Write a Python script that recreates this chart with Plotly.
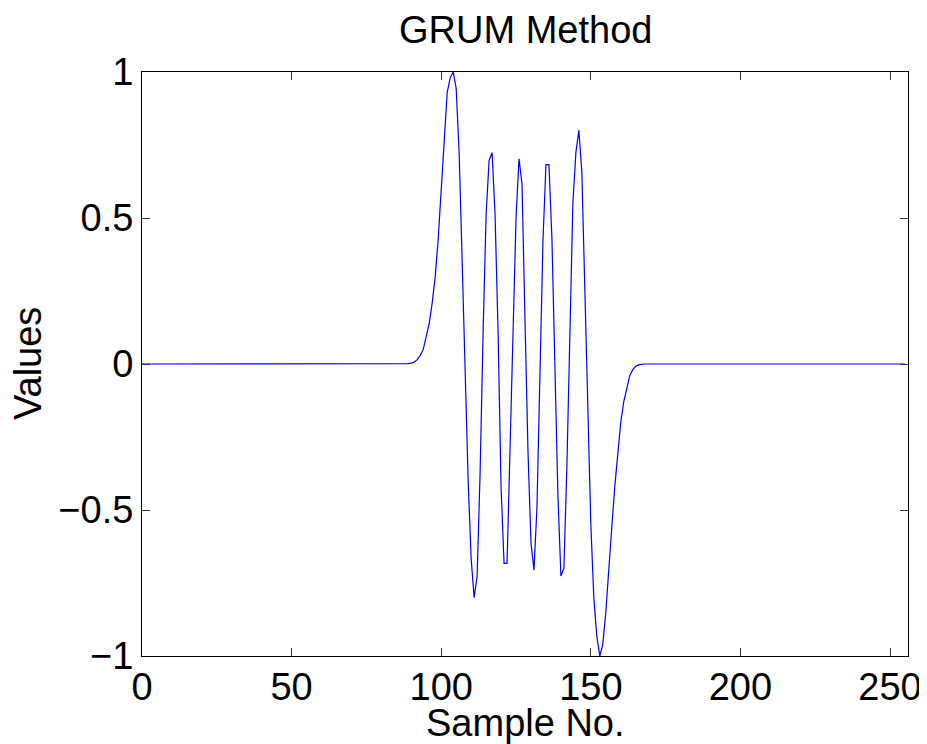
import plotly.graph_objects as go

# Samples 0..255; non-zero region
n_samples = 256
burst_start = 88
burst_values = [
    0.0, 0.001, 0.003, 0.007, 0.015, 0.03, 0.05, 0.09, 0.14, 0.21,   # 88-97
    0.30, 0.43, 0.59, 0.77, 0.93, 0.98, 1.0, 0.944, 0.72, 0.35,       # 98-107
    -0.05, -0.40, -0.666, -0.80, -0.726, -0.37, 0.11, 0.51, 0.697, 0.724,  # 108-117
    0.51, 0.11, -0.42, -0.683, -0.683, -0.29, 0.11, 0.50, 0.703, 0.617,    # 118-127
    0.15, -0.30, -0.613, -0.706, -0.49, -0.05, 0.42, 0.683, 0.683, 0.43,   # 128-137
    0.0, -0.45, -0.726, -0.699, -0.35, 0.12, 0.55, 0.724, 0.80, 0.657,     # 138-147
    0.25, -0.2, -0.55, -0.80, -0.933, -1.0, -0.96, -0.85, -0.72, -0.56,    # 148-157
    -0.42, -0.30, -0.20, -0.13, -0.08, -0.04, -0.02, -0.008, -0.003, -0.001,  # 158-167
    0.0,
]

samples = list(range(n_samples))
values = [0.0] * n_samples
for i, v in enumerate(burst_values):
    values[burst_start + i] = v

x_ticks = [0, 50, 100, 150, 200, 250]
y_ticks = [-1, -0.5, 0, 0.5, 1]
y_tick_text = ["\u22121", "\u22120.5", "0", "0.5", "1"]

title_text = "GRUM Method"
x_title = "Sample No."
y_title = "Values"

font_family = "Liberation Sans, Arial, sans-serif"
fs = 38
tfont = dict(family=font_family, size=fs, color="black")

fig = go.Figure()
fig.add_trace(go.Scatter(x=samples, y=values, mode="lines",
                         line=dict(color="#0000ff", width=1.2),
                         showlegend=False, hoverinfo="skip"))

axis_common = dict(
    showgrid=False, zeroline=False, showline=True, linecolor="black",
    linewidth=1, mirror="ticks", ticks="inside", ticklen=8, tickwidth=1,
    tickcolor="#333333", tickfont=tfont, automargin=False,
)

# page body adds an 8px offset, so the figure is 8px smaller than the window
fig.update_layout(
    width=919, height=736,
    paper_bgcolor="white", plot_bgcolor="white",
    margin=dict(l=134, r=19, t=64, b=88, autoexpand=False),
    xaxis=dict(range=[0, 256], tickvals=x_ticks, ticklabelstandoff=-3, **axis_common),
    yaxis=dict(range=[-1, 1], tickvals=y_ticks, ticktext=y_tick_text, **axis_common),
    annotations=[
        dict(text=title_text, xref="paper", yref="paper", x=0.5, y=1,
             xanchor="center", yanchor="middle", yshift=42, showarrow=False, font=tfont),
        dict(text=x_title, xref="paper", yref="paper", x=0.5, y=0,
             xanchor="center", yanchor="middle", yshift=-67, showarrow=False, font=tfont),
        dict(text=y_title, xref="paper", yref="paper", x=0, y=0.5, textangle=-90,
             xanchor="center", yanchor="middle", xshift=-114, showarrow=False, font=tfont),
    ],
)

fig.write_html("out.html")
